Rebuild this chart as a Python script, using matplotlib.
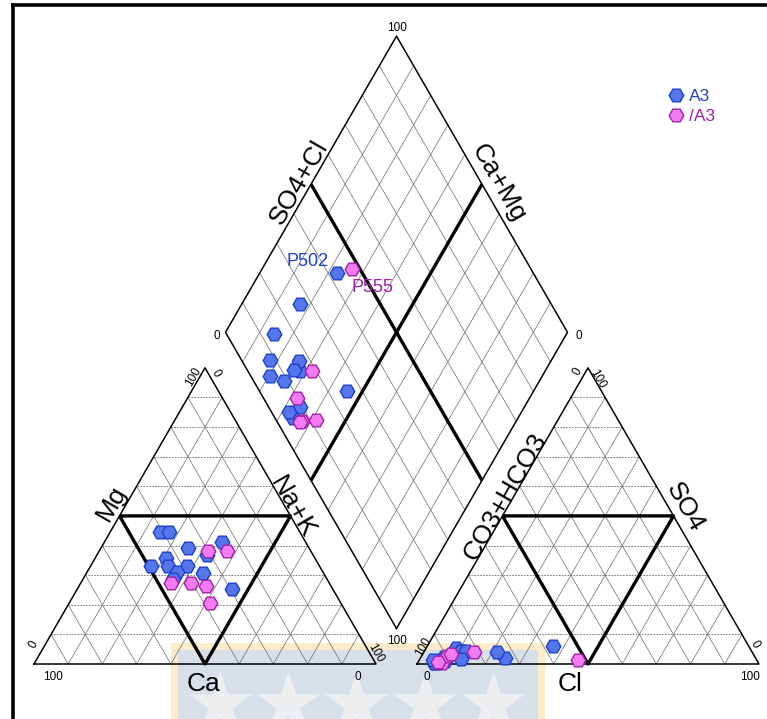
import numpy as np
import matplotlib
matplotlib.use("Agg")
import matplotlib.pyplot as plt
from matplotlib.lines import Line2D
from matplotlib.patches import Rectangle

plt.rcParams['font.family'] = ['Liberation Sans', 'DejaVu Sans']

# ---- water chemistry, % of meq/L ----
# group A3
a3_ca   = [40.9, 38.2, 35.5, 24.4, 43.6, 49.4, 44.2, 38.8, 42.6, 45.0, 35.2, 31.0, 29.4]
a3_mg   = [44.5, 44.7, 39.1, 41.3, 35.8, 33.0, 33.1, 33.1, 31.1, 28.7, 30.6, 36.8, 25.3]
a3_nak  = [14.6, 17.1, 25.4, 34.3, 20.6, 17.6, 22.7, 28.1, 26.3, 26.3, 34.2, 32.2, 45.3]
a3_hco3 = [86.0, 73.3, 91.2, 91.0, 94.3, 91.8, 57.3, 84.8, 83.4, 86.4, 94.7, 94.8, 74.5]
a3_cl   = [ 8.7, 24.6,  7.8,  6.5,  5.4,  6.7, 36.6, 10.7, 12.2, 12.0,  4.9,  4.0, 21.5]
a3_so4  = [ 5.3,  2.1,  1.0,  2.5,  0.3,  1.5,  6.1,  4.5,  4.4,  1.6,  0.4,  1.2,  4.0]
a3_names = ['', '', '', '', '', '', 'P502', '', '', '', '', '', '']

# group /A3
na3_ca   = [30.1, 24.5, 46.2, 40.5, 36.5, 38.3]
na3_mg   = [38.1, 38.2, 27.4, 27.4, 26.5, 20.5]
na3_nak  = [31.8, 37.3, 26.4, 32.1, 37.0, 41.2]
na3_hco3 = [81.3, 92.6, 52.2, 90.0, 93.4, 88.4]
na3_cl   = [14.5,  7.0, 46.4,  7.3,  5.8,  8.2]
na3_so4  = [ 4.2,  0.4,  1.4,  2.7,  0.8,  3.4]
na3_names = ['', '', 'P555', '', '', '']

tick_lo, tick_hi = '0', '100'

# ---- Piper geometry (unit side length) ----
H = np.sqrt(3) / 2
GAP = 41 / 342
PX = 342.0           # pixels per unit side
X0, Y0 = 34.0, 664.0  # pixel position of the cation triangle's left corner
W, HT = 767, 719

CAT = np.array([[0, 0], [1, 0], [0.5, H]])
AN = CAT + np.array([1 + GAP, 0])
BOT = np.array([1 + GAP / 2, GAP * H])
DIA = np.array([BOT, BOT + [-0.5, H], BOT + [0, 2 * H], BOT + [0.5, H]])


def cation_xy(ca, mg, nak):
    ca, mg, nak = map(np.asarray, (ca, mg, nak))
    t = ca + mg + nak
    return nak / t + 0.5 * mg / t, H * mg / t


def anion_xy(hco3, cl, so4):
    hco3, cl, so4 = map(np.asarray, (hco3, cl, so4))
    t = hco3 + cl + so4
    return 1 + GAP + cl / t + 0.5 * so4 / t, H * so4 / t


def diamond_xy(ca, mg, nak, hco3, cl, so4):
    ca, mg, nak, hco3, cl, so4 = map(np.asarray, (ca, mg, nak, hco3, cl, so4))
    alpha = (ca + mg) / (ca + mg + nak)
    beta = (cl + so4) / (hco3 + cl + so4)
    return BOT[0] + 0.5 * (beta - alpha), BOT[1] + H * (alpha + beta)


def px(x, y):
    """pixel position -> unit coordinates"""
    return (x - X0) / PX, (Y0 - y) / PX


fig = plt.figure(figsize=(W / 100, HT / 100), dpi=100)
ax = fig.add_axes([0, 0, 1, 1])
ax.set_xlim(-X0 / PX, (W - X0) / PX)
ax.set_ylim((Y0 - HT) / PX, Y0 / PX)
ax.axis('off')

# ---- faint banner along the bottom ----
rx0, ry0 = px(174, 719 + 20)
rx1, ry1 = px(541, 646)
ax.add_patch(Rectangle((rx0, ry0), rx1 - rx0, ry1 - ry0, facecolor='#d7dfe9',
                       edgecolor='#fcecc9', lw=5, zorder=0))
sx = (np.linspace(220, 493, 5) - X0) / PX
sy = np.full(5, px(0, 704)[1])
ax.scatter(sx, sy, marker='*', s=2300, color='#eceeef', lw=0, zorder=0.5)

GRID = dict(color='#6a6a6a', lw=0.5, zorder=1)
HGRID = dict(color='#6a6a6a', lw=0.6, ls=(0, (2, 1.5)), zorder=1)
EDGE = dict(color='black', lw=1.1, zorder=2)
BOLD = dict(color='black', lw=2.4, zorder=2, solid_capstyle='butt')


def draw_triangle(tri):
    A, B, C = tri
    for i in range(1, 10):
        f = i / 10
        p = A + f * (C - A); q = B + f * (C - B)
        ax.plot([p[0], q[0]], [p[1], q[1]], **HGRID)
        p0 = A + f * (B - A)
        q1 = p0 + (1 - f) * (C - A)
        ax.plot([p0[0], q1[0]], [p0[1], q1[1]], **GRID)
        q2 = p0 + f * (C - B)
        ax.plot([p0[0], q2[0]], [p0[1], q2[1]], **GRID)
    ring = np.vstack([tri, tri[:1]])
    ax.plot(ring[:, 0], ring[:, 1], **EDGE)
    m = np.array([(A + C) / 2, (B + C) / 2, (A + B) / 2, (A + C) / 2])
    ax.plot(m[:, 0], m[:, 1], **BOLD)


def draw_diamond(d):
    b, l, t, r = d
    for i in range(1, 10):
        f = i / 10
        s = b + f * (r - b); e = s + (l - b)
        ax.plot([s[0], e[0]], [s[1], e[1]], **GRID)
        s = b + f * (l - b); e = s + (r - b)
        ax.plot([s[0], e[0]], [s[1], e[1]], **GRID)
    ring = np.vstack([d, d[:1]])
    ax.plot(ring[:, 0], ring[:, 1], **EDGE)
    for s, e in [((l + t) / 2, (b + r) / 2), ((t + r) / 2, (l + b) / 2)]:
        ax.plot([s[0], e[0]], [s[1], e[1]], **BOLD)


draw_triangle(CAT)
draw_triangle(AN)
draw_diamond(DIA)

# ---- axis titles ----
TITLE = dict(fontsize=19, ha='center', va='center', rotation_mode='anchor', zorder=3)
for txt, (x, y), rot in [('Mg', (112, 503), 60), ('Na+K', (293, 507), -60),
                         ('Ca', (204, 684), 0), ('CO3+HCO3', (505, 497), 60),
                         ('SO4', (685, 507), -60), ('Cl', (570, 684), 0),
                         ('SO4+Cl', (299, 182), 60), ('Ca+Mg', (498, 183), -60)]:
    ax.text(*px(x, y), txt, rotation=rot, **TITLE)

# ---- corner values ----
TICK = dict(fontsize=8.5, ha='center', va='center', rotation_mode='anchor', zorder=3)
for txt, (x, y), rot in [(tick_hi, (53, 677), 0), (tick_lo, (358, 677), 0),
                         (tick_lo, (34, 645), 60), (tick_hi, (193, 377), 60),
                         (tick_lo, (216, 373), -60), (tick_hi, (376, 653), -60),
                         (tick_lo, (427, 677), 0), (tick_hi, (750, 677), 0),
                         (tick_hi, (423, 647), 60), (tick_lo, (578, 372), 60),
                         (tick_hi, (598, 379), -60), (tick_lo, (755, 644), -60),
                         (tick_hi, (397, 28), 0), (tick_lo, (217, 336), 0),
                         (tick_lo, (579, 336), 0), (tick_hi, (397, 641), 0)]:
    ax.text(*px(x, y), txt, rotation=rot, **TICK)

# ---- samples ----
groups = [
    ('A3', '#5576ea', '#1c3fd0', a3_ca, a3_mg, a3_nak, a3_hco3, a3_cl, a3_so4, a3_names,
     (-21.5, 8.5), '#1c3fd0'),
    ('/A3', '#f27af2', '#a01fa6', na3_ca, na3_mg, na3_nak, na3_hco3, na3_cl, na3_so4, na3_names,
     (14.5, -13.5), '#a01fa6'),
]
MS = 10.5
for name, fc, ec, ca, mg, nak, hco3, cl, so4, names, off, tc in groups:
    for xs, ys in [cation_xy(ca, mg, nak), anion_xy(hco3, cl, so4),
                   diamond_xy(ca, mg, nak, hco3, cl, so4)]:
        ax.plot(xs, ys, ls='none', marker='H', ms=MS, mfc=fc, mec=ec, mew=1.0, zorder=4)
    dx, dy = diamond_xy(ca, mg, nak, hco3, cl, so4)
    for x, y, n in zip(dx, dy, names):
        if n:
            ax.annotate(n, (x, y), xytext=off, textcoords='offset points',
                        ha='center', va='center', fontsize=13, color=tc, zorder=5)

handles = [Line2D([], [], ls='none', marker='H', ms=MS, mfc=g[1], mec=g[2], mew=1.0, label=g[0])
           for g in groups]
ax.legend(handles=handles, loc='upper left', bbox_to_anchor=(666 / W, 1 - 89 / HT),
          frameon=False, fontsize=12.5, handletextpad=0.1, labelspacing=0.28,
          borderaxespad=0, borderpad=0, handlelength=1.2, labelcolor='markeredgecolor')

# ---- outer frame ----
fig.add_artist(Line2D([13 / W, 13 / W], [0, 1 - 5 / HT], color='black', lw=2.6))
fig.add_artist(Line2D([13 / W, 1], [1 - 5 / HT, 1 - 5 / HT], color='black', lw=2.6))

fig.savefig('out.png', dpi=100)
